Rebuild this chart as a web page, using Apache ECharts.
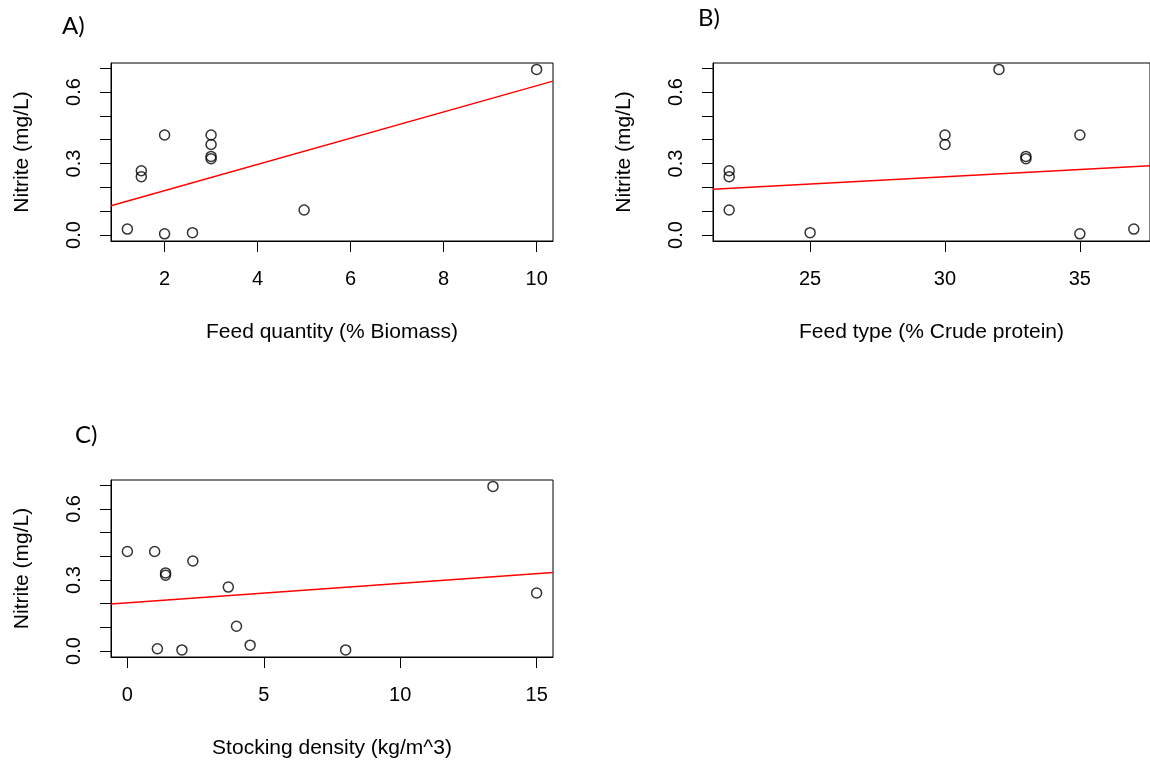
<!DOCTYPE html>
<html>
<head>
<meta charset="utf-8">
<script src="https://cdn.jsdelivr.net/npm/echarts@6/dist/echarts.min.js"></script>
<style>
html, body { margin: 0; padding: 0; background: #fff; }
#chart { width: 1150px; height: 767px; }
</style>
</head>
<body>
<div id="chart"></div>
<script>
// ---- data ----
const yTickValues = [0, 0.1, 0.2, 0.3, 0.4, 0.5, 0.6, 0.7];
const yLabelValues = [0, 0.3, 0.6];

const feedQuantity = [1.2, 1.5, 1.5, 2, 2, 2.6, 3, 3, 3, 3, 5, 10];
const nitriteA     = [0.025, 0.27, 0.245, 0.42, 0.005, 0.01, 0.42, 0.38, 0.33, 0.32, 0.105, 0.695];
const xTicksA = [2, 4, 6, 8, 10];
const fitA = [[0.848, 0.123], [10.352, 0.646]];

const feedType = [22, 22, 22, 25, 30, 30, 32, 33, 33, 35, 35, 37];
const nitriteB = [0.27, 0.245, 0.105, 0.01, 0.42, 0.38, 0.695, 0.33, 0.32, 0.42, 0.005, 0.025];
const xTicksB = [25, 30, 35];
const fitB = [[21.4, 0.192], [37.6, 0.291]];

const stockingDensity = [0, 1, 1.1, 1.4, 1.4, 2, 2.4, 3.7, 4, 4.5, 8, 13.4, 15];
const nitriteC        = [0.42, 0.42, 0.01, 0.33, 0.32, 0.005, 0.38, 0.27, 0.105, 0.025, 0.005, 0.695, 0.245];
const xTicksC = [0, 5, 10, 15];
const fitC = [[-0.6, 0.199], [15.6, 0.332]];

const panelTitles = ['A)', 'B)', 'C)'];
const xNames = ['Feed quantity (% Biomass)', 'Feed type (% Crude protein)', 'Stocking density (kg/m^3)'];
const yName = 'Nitrite (mg/L)';

// ---- layout ----
const FONT = 'Liberation Sans, Arial, sans-serif';
const grids = [
  { left: 111, top: 63, width: 442, height: 178 },
  { left: 713, top: 63, width: 441, height: 178 },
  { left: 111, top: 480, width: 442, height: 177 }
];
const xRanges = [[0.848, 10.352], [21.4, 37.6], [-0.6, 15.6]];
const xTickSets = [xTicksA, xTicksB, xTicksC];

function zip(xs, ys) { return xs.map((x, i) => [x, ys[i]]); }

const option = {
  animation: false,
  backgroundColor: '#ffffff',
  grid: grids.map(g => Object.assign({
    show: true, borderColor: '#000', borderWidth: 1, backgroundColor: 'transparent', containLabel: false
  }, g)),
  xAxis: grids.map((g, i) => ({
    type: 'value', gridIndex: i, min: xRanges[i][0], max: xRanges[i][1], position: 'bottom',
    name: xNames[i], nameLocation: 'middle', nameGap: 81,
    nameTextStyle: { fontFamily: FONT, fontSize: 21, color: '#000' },
    axisLine: { show: true, onZero: false, lineStyle: { color: '#000', width: 1 } },
    axisTick: { show: true, inside: false, length: 11, customValues: xTickSets[i], lineStyle: { color: '#000', width: 1 } },
    axisLabel: { show: true, margin: 28, customValues: xTickSets[i], fontFamily: FONT, fontSize: 20, color: '#000',
      formatter: v => String(v) },
    splitLine: { show: false }
  })),
  yAxis: grids.map((g, i) => ({
    type: 'value', gridIndex: i, min: -0.025, max: 0.722, position: 'left',
    name: yName, nameLocation: 'middle', nameGap: 78, nameRotate: 90,
    nameTextStyle: { fontFamily: FONT, fontSize: 21, color: '#000' },
    axisLine: { show: true, onZero: false, lineStyle: { color: '#000', width: 1 } },
    axisTick: { show: true, inside: false, length: 11, customValues: yTickValues, lineStyle: { color: '#000', width: 1 } },
    axisLabel: { show: true, rotate: 90, margin: 27, customValues: yLabelValues, fontFamily: FONT, fontSize: 20, color: '#000',
      formatter: v => v.toFixed(1) },
    splitLine: { show: false }
  })),
  graphic: [
    { type: 'text', left: 62, top: 14, style: { text: panelTitles[0], font: '24px Lato, Carlito, sans-serif', fill: '#000' } },
    { type: 'text', left: 698, top: 6, style: { text: panelTitles[1], font: '24px Lato, Carlito, sans-serif', fill: '#000' } },
    { type: 'text', left: 75, top: 423, style: { text: panelTitles[2], font: '24px Lato, Carlito, sans-serif', fill: '#000' } }
  ],
  series: []
};

const scatterData = [zip(feedQuantity, nitriteA), zip(feedType, nitriteB), zip(stockingDensity, nitriteC)];
const fits = [fitA, fitB, fitC];
for (let i = 0; i < 3; i++) {
  option.series.push({
    type: 'line', xAxisIndex: i, yAxisIndex: i, data: fits[i], showSymbol: false, symbol: 'none',
    lineStyle: { color: '#ff0000', width: 1.5 }, clip: true, silent: true, z: 2
  });
  option.series.push({
    type: 'scatter', xAxisIndex: i, yAxisIndex: i, data: scatterData[i],
    symbol: 'circle', symbolSize: 10,
    itemStyle: { color: 'rgba(0,0,0,0)', borderColor: '#000', borderWidth: 1.5 }, z: 3
  });
}

const chart = echarts.init(document.getElementById('chart'), null, { renderer: 'canvas' });
chart.setOption(option);
</script>
</body>
</html>
